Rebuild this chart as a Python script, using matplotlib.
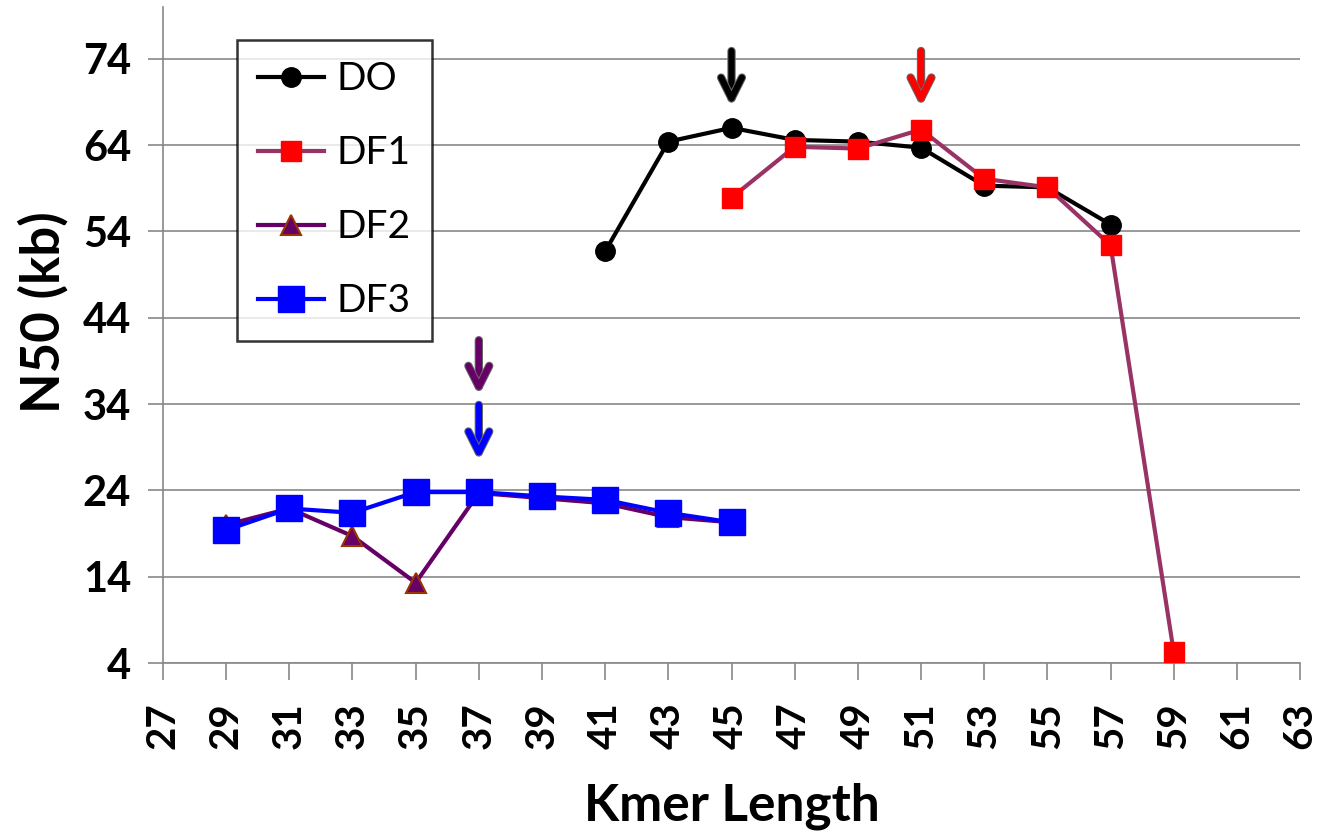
import matplotlib
matplotlib.use("Agg")
import matplotlib.pyplot as plt
import matplotlib.patheffects as pe

plt.rcParams['font.family'] = ['Lato', 'DejaVu Sans']

# Data
do_x = [41, 43, 45, 47, 49, 51, 53, 55, 57]
do_y = [51.7, 64.4, 66.0, 64.6, 64.4, 63.7, 59.3, 59.1, 54.8]
df1_x = [45, 47, 49, 51, 53, 55, 57, 59]
df1_y = [57.9, 63.8, 63.6, 65.8, 60.1, 59.1, 52.4, 5.3]
df2_x = [29, 31, 33, 35, 37, 39, 41, 43, 45]
df2_y = [20.0, 21.9, 18.7, 13.3, 23.7, 23.1, 22.5, 20.9, 20.3]
df3_x = [29, 31, 33, 35, 37, 39, 41, 43, 45]
df3_y = [19.4, 21.9, 21.4, 23.8, 23.8, 23.3, 22.9, 21.4, 20.3]

x_ticks = list(range(27, 64, 2))
y_ticks = [4, 14, 24, 34, 44, 54, 64, 74]

# arrows: (x, y_start, y_end, color)
arrows = [
    (45, 74.9, 68.6, 'black'),
    (51, 74.9, 68.6, '#ff0000'),
    (37, 41.4, 35.2, '#660066'),
    (37, 33.9, 27.6, '#0000ff'),
]

fig = plt.figure(figsize=(13.24, 8.4), dpi=100)
ax = fig.add_axes([0.1231, 0.2107, 0.8588, 0.781])

ax.plot(do_x, do_y, color='black', lw=3, marker='o', ms=14, mfc='black', mec='black', label='DO', zorder=3)
ax.plot(df1_x, df1_y, color='#993366', lw=3, marker='s', ms=15, mfc='#ff0000', mec='#ff0000', label='DF1', zorder=4)
ax.plot(df2_x, df2_y, color='#660066', lw=3, marker='^', ms=14, mfc='#660066', mec='#993300', mew=1.5, label='DF2', zorder=3)
ax.plot(df3_x, df3_y, color='#0000ff', lw=3, marker='s', ms=19, mfc='#0000ff', mec='#0000ff', label='DF3', zorder=4)

for x, y0, y1, c in arrows:
    ax.annotate('', xy=(x, y1), xytext=(x, y0),
                arrowprops=dict(arrowstyle='->,head_length=1.5,head_width=0.75', color=c, lw=4.5,
                                shrinkA=0, shrinkB=0,
                                path_effects=[pe.withStroke(linewidth=6, foreground='#666666')]),
                zorder=5)

ax.set_xlim(27, 63)
ax.set_ylim(4, 80)
ax.set_xticks(x_ticks)
ax.set_xticklabels([str(v) for v in x_ticks], rotation=90, fontsize=29, fontweight='bold')
ax.set_yticks(y_ticks)
ax.set_yticklabels([str(v) for v in y_ticks], fontsize=30, fontweight='bold')

ax.grid(axis='y', color='#888888', lw=1.2)
ax.set_axisbelow(True)
for s in ['top', 'right']:
    ax.spines[s].set_visible(False)
for s in ['left', 'bottom']:
    ax.spines[s].set_color('#888888')
    ax.spines[s].set_linewidth(1.2)
ax.tick_params(axis='x', direction='out', length=12, width=1.2, color='#888888', pad=16)
ax.tick_params(axis='y', direction='out', length=11, width=1.2, color='#888888', pad=12)

ax.set_xlabel('Kmer Length', fontsize=37, fontweight='bold', labelpad=24)
ax.set_ylabel('N50 (kb)', fontsize=38, fontweight='bold')
ax.yaxis.set_label_coords(-0.083, 0.535)

leg = ax.legend(loc='upper left', bbox_to_anchor=(0.065, 0.950), fontsize=28,
                frameon=True, fancybox=False, edgecolor='black', handlelength=1.7,
                labelspacing=0.98, borderpad=0.55, handletextpad=0.3, borderaxespad=0)
leg.get_frame().set_linewidth(1.8)

fig.savefig('out.png', dpi=100)
